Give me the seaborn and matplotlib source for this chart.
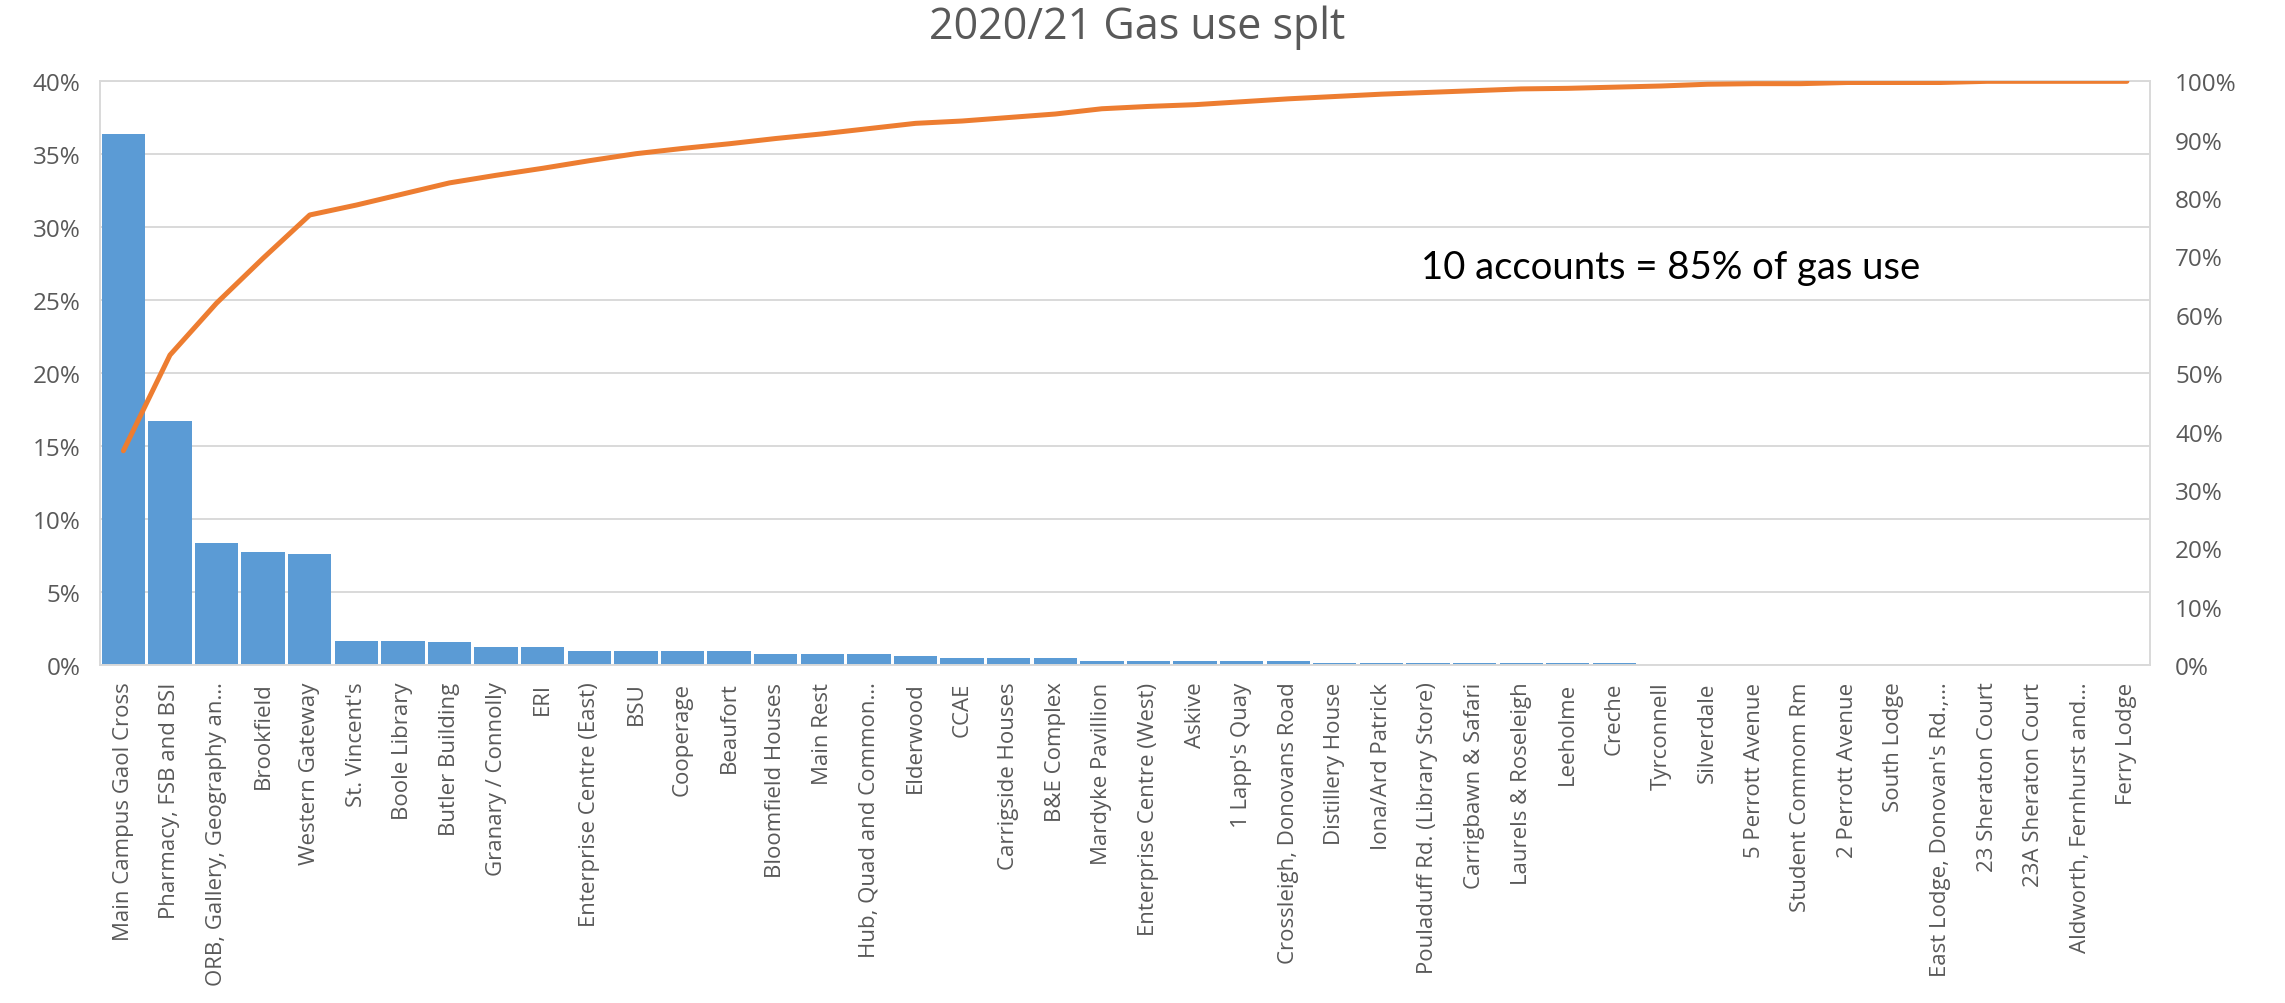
import numpy as np
import pandas as pd
import matplotlib
matplotlib.use("Agg")
import matplotlib.pyplot as plt
import seaborn as sns
from matplotlib.ticker import FuncFormatter, MultipleLocator

categories = [
    "Main Campus Gaol Cross", "Pharmacy, FSB and BSI", "ORB, Gallery, Geography an\u2026",
    "Brookfield", "Western Gateway", "St. Vincent's", "Boole Library", "Butler Building",
    "Granary / Connolly", "ERI", "Enterprise Centre (East)", "BSU", "Cooperage", "Beaufort",
    "Bloomfield Houses", "Main Rest", "Hub, Quad and Common\u2026", "Elderwood", "CCAE",
    "Carrigside Houses", "B&E Complex", "Mardyke Pavillion", "Enterprise Centre (West)",
    "Askive", "1 Lapp's Quay", "Crossleigh, Donovans Road", "Distillery House",
    "Iona/Ard Patrick", "Pouladuff Rd. (Library Store)", "Carrigbawn & Safari",
    "Laurels & Roseleigh", "Leeholme", "Creche", "Tyrconnell", "Silverdale",
    "5 Perrott Avenue", "Student Commom Rm", "2 Perrott Avenue", "South Lodge",
    "East Lodge, Donovan's Rd.,\u2026", "23 Sheraton Court", "23A Sheraton Court",
    "Aldworth, Fernhurst and\u2026", "Ferry Lodge",
]

share_pct = [36.4, 16.7, 8.35, 7.74, 7.59, 1.67, 1.67, 1.54, 1.22, 1.22,
             0.93, 0.93, 0.93, 0.93, 0.77, 0.77, 0.77, 0.61, 0.45, 0.45,
             0.45, 0.29, 0.29, 0.29, 0.29, 0.29, 0.15, 0.15, 0.15, 0.15,
             0.15, 0.15, 0.15, 0.0, 0.0, 0.0, 0.0, 0.0, 0.0, 0.0,
             0.0, 0.0, 0.0, 0.0]

cumulative_pct = [36.7, 53.1, 62.0, 69.7, 77.1, 78.8, 80.7, 82.6, 83.9, 85.1,
                  86.4, 87.6, 88.5, 89.3, 90.2, 91.0, 91.9, 92.8, 93.2, 93.8,
                  94.4, 95.3, 95.7, 96.0, 96.5, 97.0, 97.4, 97.8, 98.1, 98.4,
                  98.7, 98.8, 99.0, 99.2, 99.5, 99.6, 99.6, 99.8, 99.8, 99.8,
                  100.0, 100.0, 100.0, 100.0]

title = "2020/21 Gas use splt"
annotation = "10 accounts = 85% of gas use"

sns.set_theme(style="white")
plt.rcParams["font.family"] = ["Open Sans", "DejaVu Sans"]

BLUE = "#5B9BD5"
ORANGE = "#ED7D31"
GRID = "#D9D9D9"
TXT = "#595959"

df = pd.DataFrame({"account": categories, "share": share_pct,
                   "cum": cumulative_pct, "pos": np.arange(len(categories))})

fig = plt.figure(figsize=(22.85, 10.04), dpi=100)
ax = fig.add_axes([0.0438, 0.3367, 0.8972, 0.5813])

sns.barplot(data=df, x="account", y="share", color=BLUE, saturation=1,
            width=0.93, edgecolor="none", linewidth=0, ax=ax, zorder=2)
ax.set_ylim(0, 40)
ax.set_xlim(-0.5, len(categories) - 0.5)
ax.yaxis.set_major_locator(MultipleLocator(5))
ax.yaxis.set_major_formatter(FuncFormatter(lambda v, p: f"{v:.0f}%"))
ax.grid(axis="y", color=GRID, linewidth=1.4, zorder=0)
ax.set_axisbelow(True)
ax.set_xlabel("")
ax.set_ylabel("")
ax.tick_params(axis="y", length=0, pad=14, labelsize=17.5, labelcolor=TXT)
ax.tick_params(axis="x", length=0, pad=12, labelsize=16, labelcolor=TXT)
for lbl in ax.get_xticklabels():
    lbl.set_rotation(90)
for s in ax.spines.values():
    s.set_color(GRID)
    s.set_linewidth(1.4)

ax2 = ax.twinx()
sns.lineplot(data=df, x="pos", y="cum", color=ORANGE, linewidth=3.6,
             sort=False, ax=ax2, zorder=3)
ax2.set_ylim(0, 100)
ax2.set_xlim(-0.5, len(categories) - 0.5)
ax2.yaxis.set_major_locator(MultipleLocator(10))
ax2.yaxis.set_major_formatter(FuncFormatter(lambda v, p: f"{v:.0f}%"))
ax2.set_ylabel("")
ax2.set_xlabel("")
ax2.tick_params(axis="y", length=0, pad=18, labelsize=17.5, labelcolor=TXT)
for s in ax2.spines.values():
    s.set_visible(False)

ax.text(27.85, 27.3, annotation, fontsize=27.5, color="black", va="center",
        ha="left", family=["Lato", "DejaVu Sans"], zorder=5)

fig.text(0.4977, 0.972, title, ha="center", va="center", fontsize=31, color=TXT)

fig.savefig("out.png", dpi=100)
